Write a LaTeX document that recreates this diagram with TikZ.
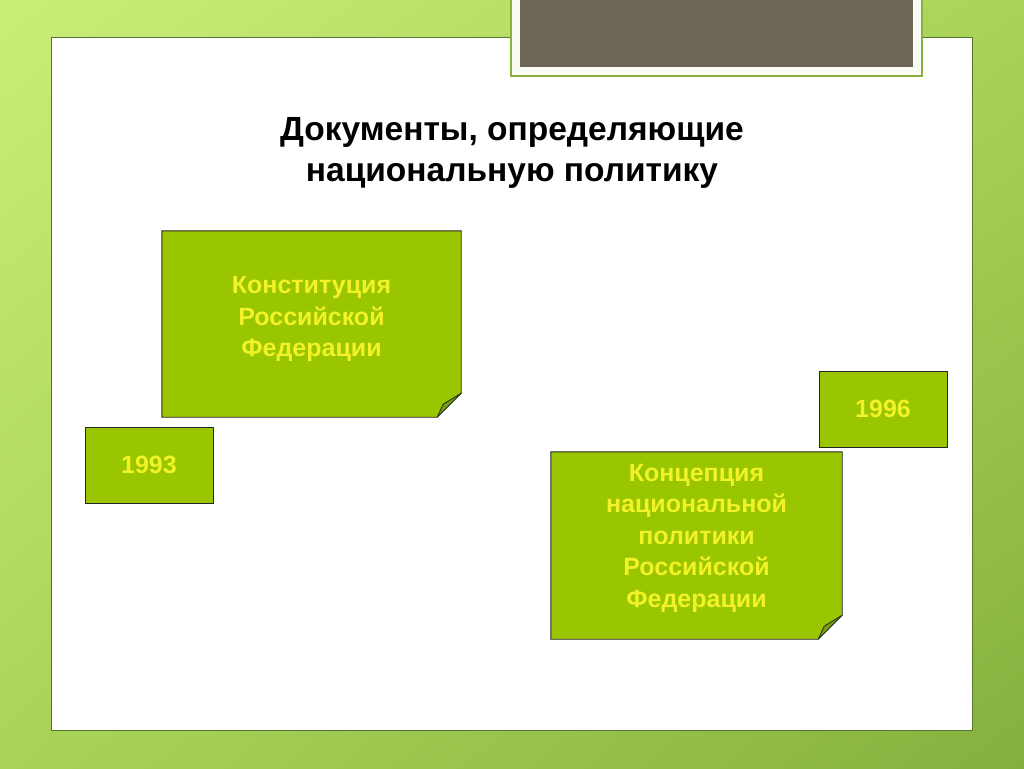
\documentclass[tikz,border=0pt]{standalone}
\usepackage{fontspec}
\setmainfont{Liberation Sans}
\usetikzlibrary{calc,shadings}

\definecolor{bgLight}{RGB}{200,238,120}
\definecolor{bgMid}{RGB}{170,212,88}
\definecolor{bgDark}{RGB}{132,176,62}
\definecolor{panelLine}{RGB}{88,118,48}
\definecolor{capBrown}{RGB}{110,102,86}
\definecolor{capFrame}{RGB}{138,176,64}
\definecolor{boxGreen}{RGB}{153,198,0}
\definecolor{foldGreen}{RGB}{118,160,10}
\definecolor{boxText}{RGB}{242,242,40}

\pgfdeclarelayer{back}
\pgfdeclarelayer{notes}
\pgfsetlayers{back,notes,main}

\tikzset{
  notebox/.style={rectangle, inner sep=0pt, align=center, text=boxText,
    font=\bfseries\fontsize{25}{31.5}\selectfont},
  yearbox/.style={notebox, draw=black!85, fill=boxGreen, line width=0.9pt},
  titletext/.style={align=center, font=\bfseries\fontsize{33.5}{41}\selectfont}
}

\begin{document}
\begin{tikzpicture}[x=1pt,y=1pt,yscale=-1,xscale=1]
\useasboundingbox (0,0) rectangle (1024,768);

\begin{pgfonlayer}{back}
%Background
\shade[upper left=bgLight, upper right=bgMid, lower left=bgMid, lower right=bgDark] (0,0) rectangle (1024,768);
%Panel
\draw[panelLine, line width=0.9pt, fill=white] (51.5,37.5) rectangle (972.5,730.5);
%Caption bar
\draw[capFrame, line width=1.5pt, fill=white!95!capFrame] (511,-2) rectangle (922,76);
\fill[capBrown] (520,-2) rectangle (913,67);
\end{pgfonlayer}

% Text Node
\node[titletext] (title) at (512,153) {Документы, определяющие\\национальную политику};

% Note: Constitution
\node[notebox, minimum width=299, minimum height=186] (konst) at (311.5,324) {};
\node[notebox] (konstText) at (311.5,319) {Конституция\\Российской\\Федерации};
% Note: Concept
\node[notebox, minimum width=291, minimum height=187] (konc) at (696.5,545.5) {};
\node[notebox] (koncText) at (696.5,538) {Концепция\\национальной\\политики\\Российской\\Федерации};

% Folded outlines
\begin{pgfonlayer}{notes}
\foreach \n in {konst,konc}{
  \fill[boxGreen] (\n.north west) -- (\n.north east) -- ($(\n.south east)+(0,-24)$)
    -- ($(\n.south east)+(-24,0)$) -- (\n.south west) -- cycle;
  \fill[foldGreen] ($(\n.south east)+(0,-24)$) -- ($(\n.south east)+(-18,-13)$)
    -- ($(\n.south east)+(-24,0)$) -- cycle;
  \draw[black!85, line width=0.9pt, line join=miter] (\n.north west) -- (\n.north east)
    -- ($(\n.south east)+(0,-24)$) -- ($(\n.south east)+(-24,0)$) -- (\n.south west) -- cycle;
  \draw[black!85, line width=0.8pt] ($(\n.south east)+(0,-24)$) -- ($(\n.south east)+(-18,-13)$)
    -- ($(\n.south east)+(-24,0)$);
}
\end{pgfonlayer}

% Year boxes
\node[yearbox, minimum width=128, minimum height=76] (y1993) at (149,465) {1993};
\node[yearbox, minimum width=128, minimum height=76] (y1996) at (883,409) {1996};

\end{tikzpicture}
\end{document}
